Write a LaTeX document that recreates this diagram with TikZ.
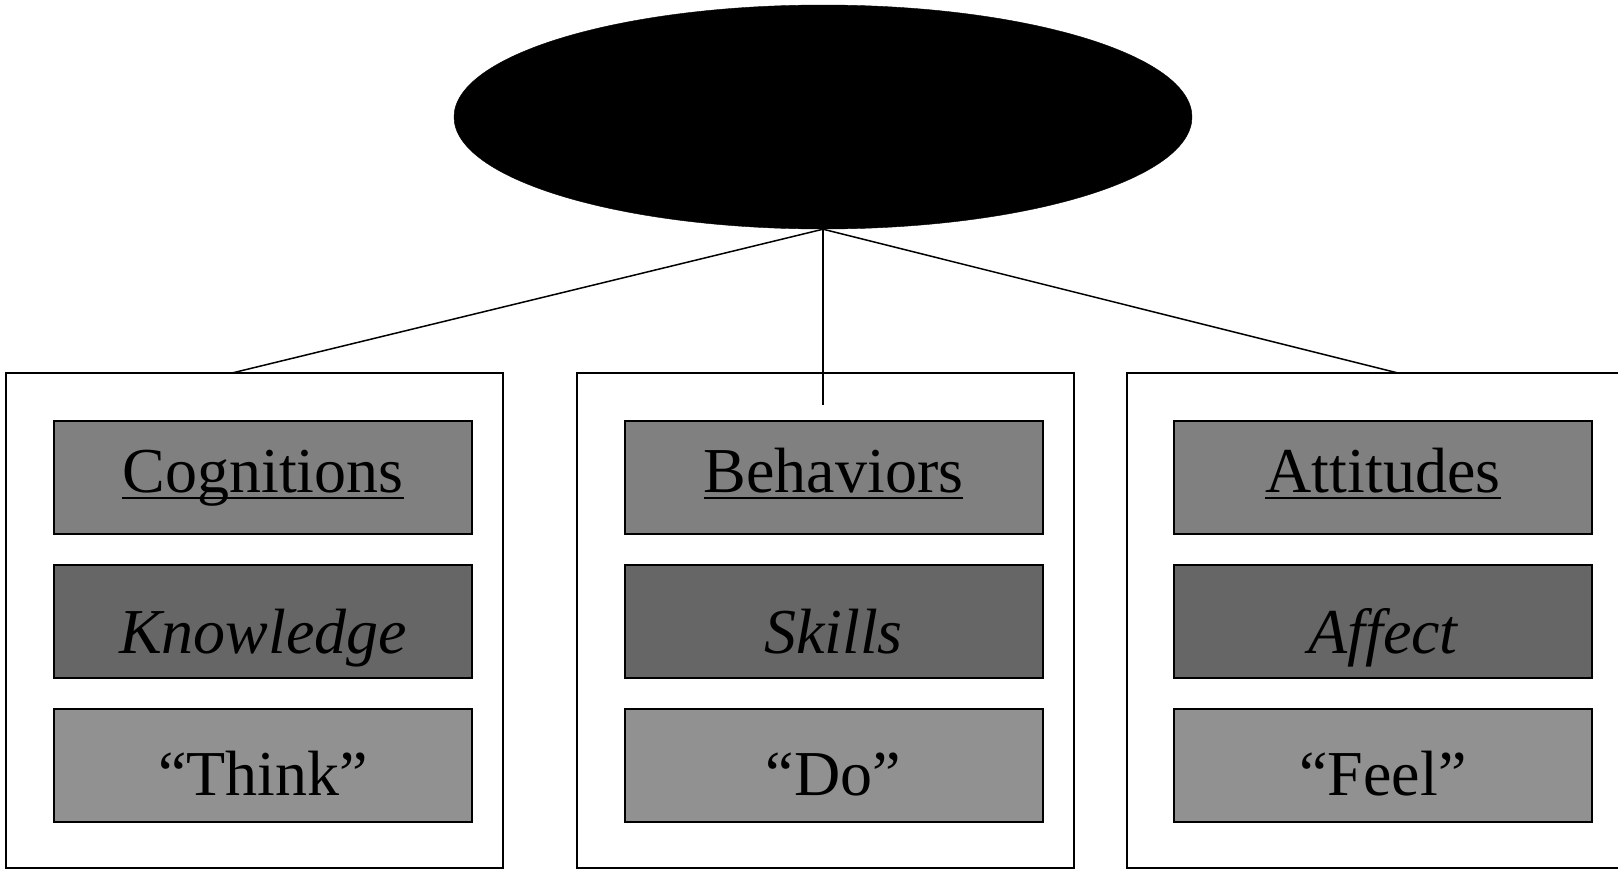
\documentclass[tikz,border=0pt]{standalone}
\usepackage{fontspec}
\setmainfont{Liberation Serif}
\usetikzlibrary{shapes.geometric}
\definecolor{rowA}{gray}{0.50}
\definecolor{rowB}{gray}{0.40}
\definecolor{rowC}{gray}{0.57}
\tikzset{
  outerbox/.style={draw=black, line width=2pt, fill=white, minimum width=497pt, minimum height=495pt, inner sep=0pt},
  innerbox/.style={draw=black, line width=2pt, minimum width=418pt, minimum height=113pt, inner sep=0pt},
  lbl/.style={inner sep=0pt, anchor=base, font=\fontsize{64}{70}\selectfont},
  conn/.style={line width=1.5pt},
  ul/.style={line width=2pt}
}
\begin{document}
\begin{tikzpicture}[x=1pt,y=-1pt]
\useasboundingbox (0,0) rectangle (1618,870);
\clip (0,0) rectangle (1618,870);
% top ellipse
\node[ellipse, fill=black, draw=black, minimum width=738pt, minimum height=224pt, inner sep=0pt] (top) at (823,117) {};
% outer boxes
\node[outerbox] (L) at (254.5,620.5) {};
\node[outerbox] (M) at (825.5,620.5) {};
\node[outerbox] (R) at (1375.5,620.5) {};
% connector ends
\coordinate (lend) at (232,373);
\coordinate (mend) at (823,405);
\coordinate (rend) at (1398,373);
\draw[conn] (top.south) -- (lend);
\draw[conn] (top.south) -- (mend);
\draw[conn] (top.south) -- (rend);
% inner boxes
\foreach \c/\x in {L/263, M/833.5, R/1383}{
  \node[innerbox, fill=rowA] (\c1) at (\x,477.5) {};
  \node[innerbox, fill=rowB] (\c2) at (\x,621.5) {};
  \node[innerbox, fill=rowC] (\c3) at (\x,765.5) {};
}
% labels
\node[lbl] (tL1) at (263,492) {Cognitions};
\node[lbl] (tM1) at (833.5,492) {Behaviors};
\node[lbl] (tR1) at (1383,492) {Attitudes};
\draw[ul] ([yshift=-6pt]tL1.base west) -- ([yshift=-6pt]tL1.base east);
\draw[ul] ([yshift=-6pt]tM1.base west) -- ([yshift=-6pt]tM1.base east);
\draw[ul] ([yshift=-6pt]tR1.base west) -- ([yshift=-6pt]tR1.base east);
\node[lbl] (tL2) at (263,653) {\itshape Knowledge};
\node[lbl] (tM2) at (833.5,653) {\itshape Skills};
\node[lbl] (tR2) at (1383,653) {\itshape Affect};
\node[lbl] (tL3) at (263,795) {“Think”};
\node[lbl] (tM3) at (833.5,795) {“Do”};
\node[lbl] (tR3) at (1383,795) {“Feel”};
\end{tikzpicture}
\end{document}
